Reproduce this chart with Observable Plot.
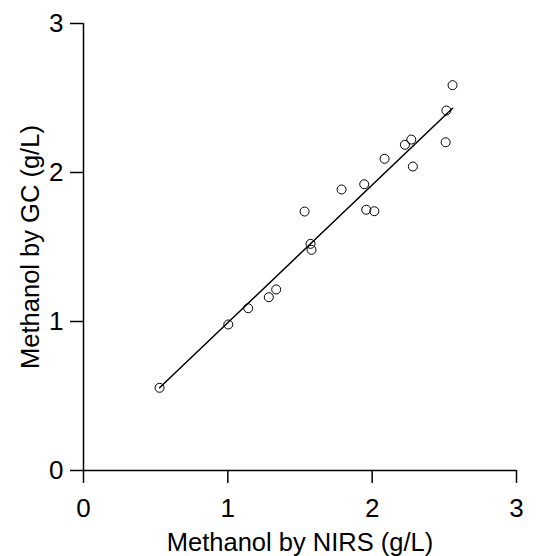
<!DOCTYPE html>
<html>
<head>
<meta charset="utf-8">
<script src="https://cdn.jsdelivr.net/npm/d3@7"></script>
<script src="https://cdn.jsdelivr.net/npm/@observablehq/plot@0.6"></script>
<style>
  html, body { margin: 0; padding: 0; background: white; }
</style>
</head>
<body>
<div id="chart"></div>
<script>
// Methanol by NIRS (x) vs Methanol by GC (y), g/L
const nirs = [0.527, 1.003, 1.141, 1.284, 1.335, 1.532, 1.573, 1.580, 1.788, 1.945, 1.959, 2.015, 2.086, 2.227, 2.271, 2.282, 2.509, 2.514, 2.557];
const gc   = [0.555, 0.980, 1.089, 1.163, 1.215, 1.738, 1.521, 1.481, 1.886, 1.921, 1.750, 1.740, 2.092, 2.186, 2.221, 2.040, 2.203, 2.416, 2.586];
// fitted regression line endpoints
const fitX = [0.527, 2.557];
const fitY = [0.555, 2.431];
const xTicks = [0, 1, 2, 3];
const yTicks = [0, 1, 2, 3];
const xLabel = "Methanol by NIRS (g/L)";
const yLabel = "Methanol by GC (g/L)";

const points = nirs.map((x, i) => ({x, y: gc[i]}));
const fit = fitX.map((x, i) => ({x, y: fitY[i]}));

const chart = Plot.plot({
  width: 537,
  height: 556,
  marginLeft: 83,
  marginRight: 21,
  marginTop: 23,
  marginBottom: 86,
  style: {fontFamily: "'Liberation Sans', Arial, sans-serif", background: "white", color: "black"},
  x: {domain: [0, 3]},
  y: {domain: [0, 3]},
  marks: [
    Plot.axisX(xTicks, {tickSize: 13, tickPadding: 15, fontSize: 26, tickFormat: "d", label: null, strokeWidth: 1.5}),
    Plot.axisY(yTicks, {tickSize: 13, tickPadding: 7, fontSize: 26, tickFormat: "d", label: null, strokeWidth: 1.5}),
    Plot.ruleX([0], {y1: 0, y2: 3, stroke: "black", strokeWidth: 1.5}),
    Plot.ruleY([0], {x1: 0, x2: 3, stroke: "black", strokeWidth: 1.5}),
    Plot.line(fit, {x: "x", y: "y", stroke: "black", strokeWidth: 1.5}),
    Plot.dot(points, {x: "x", y: "y", r: 4.5, stroke: "black", strokeWidth: 1, fill: "none"}),
    Plot.text([xLabel], {frameAnchor: "bottom", dy: 72, lineAnchor: "middle", textAnchor: "middle", fontSize: 25.5, fill: "black"}),
    Plot.text([yLabel], {frameAnchor: "left", dx: -53, rotate: -90, lineAnchor: "middle", textAnchor: "middle", fontSize: 25.5, fill: "black"})
  ]
});
document.getElementById("chart").appendChild(chart);
</script>
</body>
</html>
